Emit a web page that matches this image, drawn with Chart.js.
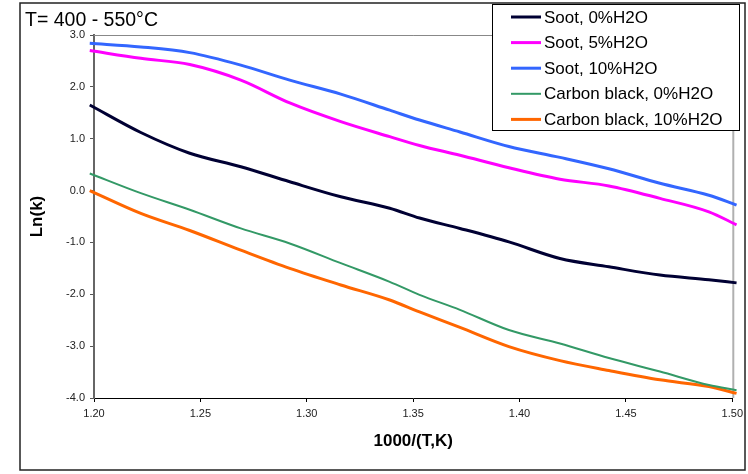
<!DOCTYPE html>
<html>
<head>
<meta charset="utf-8">
<script src="https://cdn.jsdelivr.net/npm/chart.js@4.4.1/dist/chart.umd.min.js"></script>
<style>
  body { margin: 0; background: #fff; }
  canvas { display: block; }
</style>
</head>
<body>
<canvas id="myChart" width="748" height="474"></canvas>
<script>
"use strict";

// 1000/T sample positions
const xValues = [1.198, 1.222, 1.245, 1.269, 1.292, 1.316, 1.339, 1.353, 1.372, 1.395, 1.419, 1.442, 1.466, 1.489, 1.502];

// ln(k) per series
const soot0 = [1.65, 1.12, 0.72, 0.46, 0.17, -0.12, -0.34, -0.53, -0.73, -0.99, -1.31, -1.47, -1.63, -1.72, -1.78];
const soot5 = [2.70, 2.55, 2.43, 2.13, 1.69, 1.33, 1.04, 0.87, 0.68, 0.44, 0.22, 0.09, -0.15, -0.41, -0.66];
const soot10 = [2.84, 2.77, 2.66, 2.42, 2.13, 1.86, 1.55, 1.36, 1.13, 0.85, 0.64, 0.42, 0.14, -0.09, -0.28];
const carbon0 = [0.33, -0.05, -0.37, -0.73, -1.02, -1.40, -1.76, -2.01, -2.30, -2.69, -2.95, -3.23, -3.49, -3.75, -3.85];
const carbon10 = [0.00, -0.44, -0.77, -1.15, -1.50, -1.82, -2.11, -2.34, -2.64, -3.01, -3.28, -3.47, -3.65, -3.78, -3.91];

const seriesNames = ["Soot, 0%H2O", "Soot, 5%H2O", "Soot, 10%H2O", "Carbon black, 0%H2O", "Carbon black, 10%H2O"];
const seriesColors = ["#000033", "#ff00ff", "#3366ff", "#339966", "#ff6600"];
const seriesWidths = [3, 3, 3, 2, 3];

const yTicks = [3, 2, 1, 0, -1, -2, -3, -4];
const xTicks = [1.20, 1.25, 1.30, 1.35, 1.40, 1.45, 1.50];

const FONT = "'Liberation Sans', Arial, sans-serif";
Chart.defaults.font.family = FONT;

function toPoints(ys) {
    return xValues.map((x, i) => ({ x: x, y: ys[i] }));
}

const allSeries = [soot0, soot5, soot10, carbon0, carbon10];
const datasets = allSeries.map((ys, i) => ({
    label: seriesNames[i],
    data: toPoints(ys),
    borderColor: seriesColors[i],
    backgroundColor: seriesColors[i],
    borderWidth: seriesWidths[i],
    pointRadius: 0,
    cubicInterpolationMode: "monotone",
    clip: false
}));

// frame, plot border, title and boxed legend
const decorations = {
    id: "decorations",
    beforeDatasetsDraw(chart) {
        const ctx = chart.ctx;
        const a = chart.chartArea;
        ctx.save();
        ctx.strokeStyle = "#888";
        ctx.lineWidth = 1;
        ctx.beginPath();
        ctx.moveTo(a.left, a.top + 0.5);
        ctx.lineTo(a.right, a.top + 0.5);
        ctx.stroke();
        ctx.strokeStyle = "#b0b0b0";
        ctx.lineWidth = 2;
        ctx.beginPath();
        ctx.moveTo(a.right + 1, a.top);
        ctx.lineTo(a.right + 1, a.bottom);
        ctx.stroke();
        ctx.restore();
    },
    afterDraw(chart) {
        const ctx = chart.ctx;
        ctx.save();
        // outer frame
        ctx.strokeStyle = "#222";
        ctx.lineWidth = 1.5;
        ctx.strokeRect(20, 3, 725, 467);

        // heading
        ctx.fillStyle = "#000";
        ctx.font = "19.5px " + FONT;
        ctx.textBaseline = "alphabetic";
        ctx.fillText("T= 400 - 550°C", 25, 26);

        // legend box
        ctx.fillStyle = "#fff";
        ctx.fillRect(492, 4, 248, 126);
        ctx.strokeStyle = "#000";
        ctx.lineWidth = 1;
        ctx.strokeRect(492.5, 4.5, 247, 126);
        ctx.font = "17px " + FONT;
        ctx.textBaseline = "middle";
        chart.data.datasets.forEach((ds, i) => {
            const y = 17 + i * 25.6;
            ctx.strokeStyle = ds.borderColor;
            ctx.lineWidth = ds.borderWidth;
            ctx.beginPath();
            ctx.moveTo(511, y);
            ctx.lineTo(541, y);
            ctx.stroke();
            ctx.fillStyle = "#000";
            ctx.fillText(ds.label, 544, y + 1);
        });
        ctx.restore();
    }
};

const ctx = document.getElementById("myChart").getContext("2d");
const myChart = new Chart(ctx, {
    type: "line",
    data: { datasets: datasets },
    options: {
        responsive: false,
        animation: false,
        layout: { padding: { top: 35, right: 14, left: 0, bottom: 0 } },
        plugins: {
            legend: { display: false },
            tooltip: { enabled: false }
        },
        scales: {
            x: {
                type: "linear",
                min: 1.2,
                max: 1.5,
                afterFit: (s) => { s.height = 76; },
                afterBuildTicks: (s) => { s.ticks = xTicks.map(v => ({ value: v })); },
                grid: { display: true, drawOnChartArea: false, drawTicks: true, tickLength: 4, color: "#000" },
                border: { display: true, color: "#000", width: 1 },
                ticks: {
                    color: "#222",
                    font: { size: 11 },
                    padding: 5,
                    maxRotation: 0,
                    callback: (v) => Number(v).toFixed(2)
                },
                title: {
                    display: true,
                    text: "1000/(T,K)",
                    color: "#000",
                    font: { size: 17, weight: "bold" },
                    padding: { top: 0, bottom: 22 }
                }
            },
            y: {
                min: -4,
                max: 3,
                afterFit: (s) => { s.width = 94; },
                afterBuildTicks: (s) => { s.ticks = yTicks.map(v => ({ value: v })); },
                grid: { display: true, drawOnChartArea: false, drawTicks: true, tickLength: 4, color: "#555" },
                border: { display: true, color: "#666", width: 2 },
                ticks: {
                    color: "#222",
                    font: { size: 11 },
                    padding: 5,
                    callback: (v) => Number(v).toFixed(1)
                },
                title: {
                    display: true,
                    text: "Ln(k)",
                    color: "#000",
                    font: { size: 17, weight: "bold" },
                    padding: { top: 27, bottom: 0 }
                }
            }
        }
    },
    plugins: [decorations]
});
</script>
</body>
</html>
